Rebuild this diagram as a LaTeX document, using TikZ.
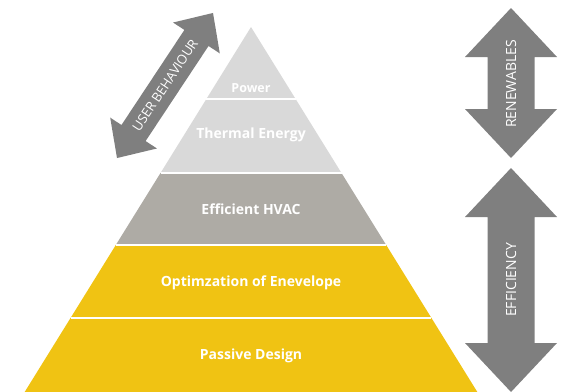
\documentclass[tikz,border=0pt]{standalone}
\usepackage{fontspec}
\setmainfont{Open Sans}
\usepackage{xcolor}
\usepackage{tikz}
\usetikzlibrary{positioning}

\definecolor{lightlayer}{HTML}{D9D9D9}
\definecolor{midlayer}{HTML}{AEABA5}
\definecolor{goldlayer}{HTML}{F0C313}
\definecolor{arrowgray}{HTML}{7F7F7F}

% double headed block arrow: centre, angle, half length, half head width, half shaft width, head length
\newcommand{\blockarrow}[6]{%
  \begin{scope}[shift={#1}, rotate=#2]
    \fill[arrowgray] (-#3,0) -- (-#3+#6,#4) -- (-#3+#6,#5) -- (#3-#6,#5) -- (#3-#6,#4) -- (#3,0)
      -- (#3-#6,-#4) -- (#3-#6,-#5) -- (-#3+#6,-#5) -- (-#3+#6,-#4) -- cycle;
  \end{scope}}

\tikzset{
  layertext/.style={text=white, font=\bfseries\fontsize{14}{16}\selectfont},
  arrowtext/.style={text=white, font=\fontsize{14}{16}\selectfont},
  divider/.style={white, line width=1.4pt},
}

\begin{document}
\begin{tikzpicture}[x=1pt, y=-1pt]
  \useasboundingbox (0,0) rectangle (561,391);

  % pyramid layers
  \fill[lightlayer] (251,27) -- (341.5,173) -- (160.5,173) -- cycle;
  \fill[midlayer] (160.5,173) -- (341.5,173) -- (386.2,245) -- (115.8,245) -- cycle;
  \fill[goldlayer] (115.8,245) -- (386.2,245) -- (479.2,395) -- (22.8,395) -- cycle;
  \draw[divider] (206.4,99) -- (295.6,99);
  \draw[divider] (160.5,173) -- (341.5,173);
  \draw[divider] (115.8,245) -- (386.2,245);
  \draw[divider] (70.6,318) -- (431.4,318);

  \node[layertext, font=\bfseries\fontsize{12.5}{14}\selectfont] (power) at (251,88) {Power};
  \node[layertext] (thermal) at (251,135) {Thermal Energy};
  \node[layertext] (hvac) at (251,209) {Efficient HVAC};
  \node[layertext] (envelope) at (251,283) {Optimzation of Enevelope};
  \node[layertext] (passive) at (251,356) {Passive Design};

  % side arrows
  \blockarrow{(165,85.5)}{56.5}{87}{28}{14.5}{30}
  \node[arrowtext, font=\fontsize{13}{15}\selectfont, rotate=56.5] (userlbl) at (165,85.5) {USER BEHAVIOUR};

  \blockarrow{(511,83)}{90}{75}{46}{23.5}{49}
  \node[arrowtext, rotate=90] (renewlbl) at (511,84) {RENEWABLES};

  \blockarrow{(511,280)}{90}{112}{46}{23.5}{49}
  \node[arrowtext, rotate=90] (efflbl) at (511,280) {EFFICIENCY};
\end{tikzpicture}
\end{document}
